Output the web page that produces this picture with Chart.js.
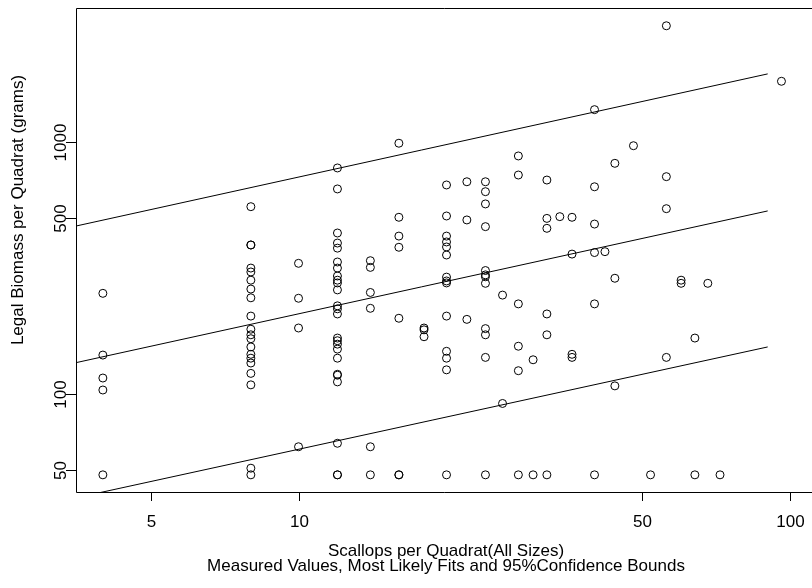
<!DOCTYPE html>
<html>
<head>
<meta charset="utf-8">
<script src="https://cdn.jsdelivr.net/npm/chart.js@4"></script>
<style>
  html, body { margin: 0; padding: 0; background: #fff; }
  #wrap { width: 812px; height: 588px; position: relative; }
</style>
</head>
<body>
<div id="wrap"><canvas id="SCALLOPCHART"></canvas></div>
<script>
// scallops per quadrat (x) and the legal biomass measured at each count (y)
const scallopCounts = [4, 8, 10, 12, 14, 16, 18, 20, 22, 24, 26, 28, 30, 32, 34, 36, 40, 42, 44, 48, 52, 56, 60, 64, 68, 72, 96];
const biomassAt = [
  [251, 143, 116, 104, 48],
  [553, 390, 390, 316, 305, 283, 261, 241, 204, 181, 172, 166, 154, 144, 139, 133, 121, 109, 51, 48],
  [330, 240, 183, 62],
  [787, 650, 435, 397, 379, 334, 316, 294, 283, 276, 259, 224, 218, 208, 167, 163, 158, 151, 139, 120, 119, 112, 64, 48, 48],
  [338, 318, 253, 219, 62, 48],
  [986, 502, 423, 382, 200, 48, 48],
  [183, 180, 169],
  [674, 508, 423, 401, 383, 356, 291, 281, 276, 204, 148, 139, 125, 48],
  [694, 490, 198],
  [694, 634, 567, 461, 309, 297, 292, 275, 182, 172, 140, 48],
  [247, 92],
  [878, 738, 228, 155, 124, 48],
  [137, 48],
  [705, 497, 454, 208, 172, 48],
  [505],
  [502, 359, 144, 140],
  [1339, 663, 472, 364, 228, 48],
  [367],
  [821, 288, 108],
  [964],
  [48],
  [2876, 727, 543, 140],
  [283, 275],
  [167, 48],
  [275],
  [48],
  [1734]
];

// fitted power law and 95% bounds, end points
const fitX = [3.5, 90];
const fitMid = [133, 532];
const fitUpper = [462, 1855];
const fitLower = [38.8, 154];

const xTicks = [5, 10, 50, 100];
const yTicks = [50, 100, 500, 1000];

const points = [];
scallopCounts.forEach((n, i) => {
  biomassAt[i].forEach(b => points.push({ x: n, y: b }));
});
const linePts = ys => fitX.map((x, i) => ({ x: x, y: ys[i] }));

const FONT = '"Liberation Sans", Arial, sans-serif';

const rAxes = {
  id: 'rAxes',
  afterDraw(chart) {
    const c = chart.ctx;
    const a = chart.chartArea;
    const xs = chart.scales.x, ys = chart.scales.y;
    c.save();
    c.strokeStyle = '#000';
    c.lineWidth = 1;
    c.beginPath();
    // box: right side is off the canvas
    c.moveTo(a.right + 5, a.top + 0.5);
    c.lineTo(a.left + 0.5, a.top + 0.5);
    c.lineTo(a.left + 0.5, a.bottom + 0.5);
    c.lineTo(a.right + 5, a.bottom + 0.5);
    c.stroke();

    c.fillStyle = '#000';
    c.font = '17px ' + FONT;
    c.textAlign = 'center';
    c.textBaseline = 'middle';
    xTicks.forEach(v => {
      const px = Math.round(xs.getPixelForValue(v)) + 0.5;
      c.beginPath();
      c.moveTo(px, a.bottom);
      c.lineTo(px, a.bottom + 9);
      c.stroke();
      c.fillText(String(v), px, 522);
    });
    yTicks.forEach(v => {
      const py = Math.round(ys.getPixelForValue(v)) + 0.5;
      c.beginPath();
      c.moveTo(a.left, py);
      c.lineTo(a.left - 10, py);
      c.stroke();
      c.save();
      c.translate(61, py);
      c.rotate(-Math.PI / 2);
      c.fillText(String(v), 0, 0);
      c.restore();
    });

    c.save();
    c.translate(18, 210);
    c.rotate(-Math.PI / 2);
    c.fillText('Legal Biomass per Quadrat (grams)', 0, 0);
    c.restore();

    c.fillText('Scallops per Quadrat(All Sizes)', 446, 551);
    c.fillText('Measured Values, Most Likely Fits and 95%Confidence Bounds', 446, 566);
    c.restore();
  }
};

const ctx = document.getElementById('SCALLOPCHART');

const scallop_chart = new Chart(ctx, {
  type: 'scatter',
  data: {
    datasets: [
      {
        label: 'measured',
        data: points,
        pointStyle: 'circle',
        pointRadius: 4,
        borderWidth: 1,
        borderColor: '#000',
        backgroundColor: 'rgba(0,0,0,0)'
      },
      { label: 'fit', data: linePts(fitMid), showLine: true, pointRadius: 0, borderColor: '#000', borderWidth: 1, clip: 0 },
      { label: 'upper', data: linePts(fitUpper), showLine: true, pointRadius: 0, borderColor: '#000', borderWidth: 1, clip: 0 },
      { label: 'lower', data: linePts(fitLower), showLine: true, pointRadius: 0, borderColor: '#000', borderWidth: 1, clip: 0 }
    ]
  },
  options: {
    responsive: true,
    maintainAspectRatio: false,
    animation: false,
    layout: { padding: { left: 76, top: 8, right: 0, bottom: 96 } },
    scales: {
      x: { type: 'logarithmic', min: 3.527, max: 108.2, display: false },
      y: { type: 'logarithmic', min: 41.05, max: 3382, display: false }
    },
    plugins: {
      legend: { display: false },
      tooltip: { enabled: false }
    }
  },
  plugins: [rAxes]
});
</script>
</body>
</html>
